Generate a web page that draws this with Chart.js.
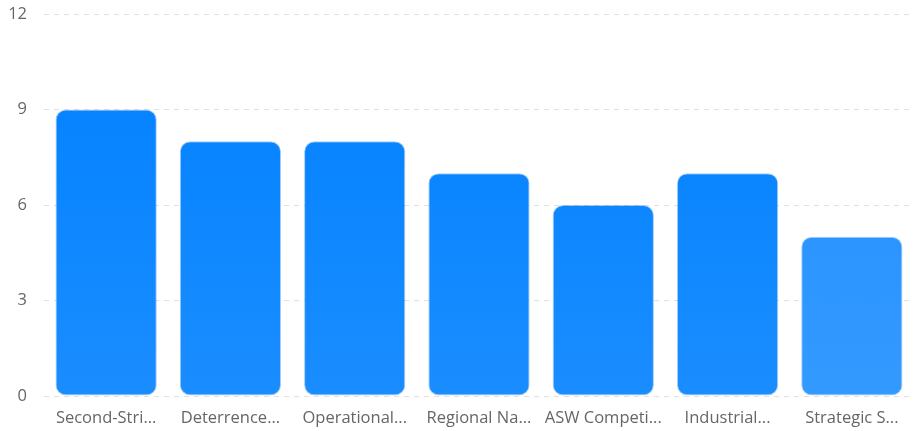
<!DOCTYPE html>
<html lang="en">
<head>
    <meta charset="UTF-8">
    <title>Bar Chart</title>
    <script src="https://cdn.jsdelivr.net/npm/chart.js"></script>
    <style>
        html, body { margin: 0; padding: 0; background: #fff; }
        #wrap { width: 914px; height: 431px; }
    </style>
</head>
<body>
    <div id="wrap"><canvas id="barChart"></canvas></div>
    <script>
        const categories = [
            "Second-Strike Capability",
            "Deterrence Posture",
            "Operational Readiness",
            "Regional Naval Balance",
            "ASW Competition",
            "Industrial Base",
            "Strategic Stability"
        ];
        const scores = [9, 8, 8, 7, 6, 7, 5];
        const yTicks = [0, 3, 6, 9, 12];

        function truncate(s) {
            return s.length > 11 ? s.slice(0, 11).trim() + '...' : s;
        }

        function barFill(ctx) {
            const chart = ctx.chart;
            const area = chart.chartArea;
            if (!area) return '#0a84ff';
            const last = ctx.dataIndex === categories.length - 1;
            const g = chart.ctx.createLinearGradient(0, area.top, 0, area.bottom);
            g.addColorStop(0, last ? 'rgba(20,136,255,0.95)' : '#0080ff');
            g.addColorStop(1, last ? 'rgba(40,148,255,0.95)' : '#1a8dff');
            return g;
        }

        new Chart(document.getElementById('barChart'), {
            type: 'bar',
            data: {
                labels: categories,
                datasets: [{
                    data: scores,
                    backgroundColor: barFill,
                    borderColor: 'rgba(0,110,230,0.35)',
                    borderWidth: 1,
                    borderRadius: 10,
                    borderSkipped: false,
                    barPercentage: 0.815,
                    categoryPercentage: 1
                }]
            },
            options: {
                responsive: true,
                maintainAspectRatio: false,
                animation: false,
                layout: { padding: 0 },
                plugins: {
                    legend: { display: false },
                    tooltip: { enabled: false }
                },
                scales: {
                    x: {
                        grid: { display: false },
                        border: { display: false },
                        afterFit: axis => { axis.height = 35; },
                        ticks: {
                            color: '#666',
                            font: { family: 'Open Sans', size: 16.5 },
                            maxRotation: 0,
                            autoSkip: false,
                            padding: 4,
                            callback: function (v, i) { return truncate(categories[i]); }
                        }
                    },
                    y: {
                        min: 0,
                        max: 12,
                        afterBuildTicks: axis => { axis.ticks = yTicks.map(v => ({ value: v })); },
                        afterFit: axis => {
                            axis.width = 44;
                            axis.paddingTop = 14;
                            axis.paddingBottom = 0;
                        },
                        grid: { color: '#e0e0e0', drawTicks: false },
                        border: { display: false, dash: [5, 5] },
                        ticks: {
                            color: '#666',
                            font: { family: 'Open Sans', size: 16.5 },
                            padding: 17
                        }
                    }
                }
            }
        });
    </script>
</body>
</html>
